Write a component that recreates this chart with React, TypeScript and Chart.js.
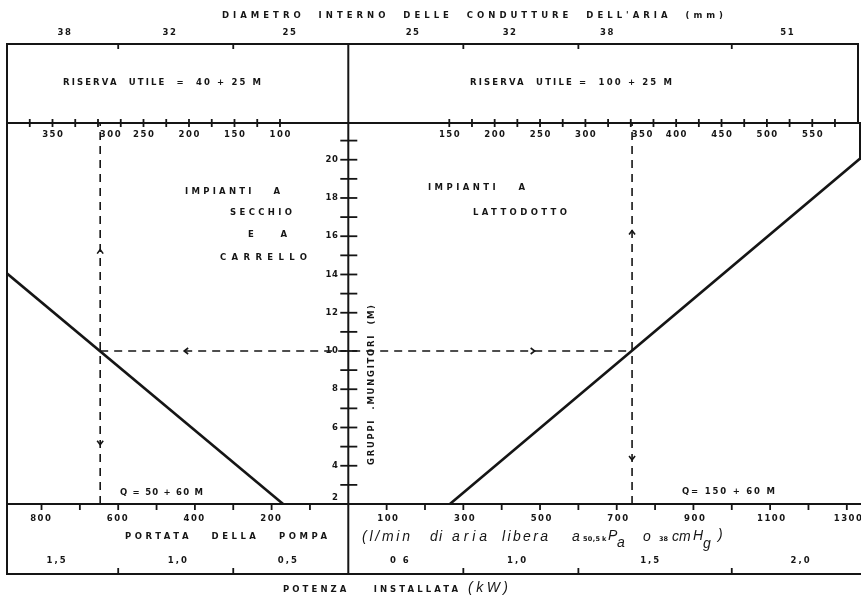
import React, { useEffect, useRef } from "react";
import { Chart, registerables } from "chart.js";

Chart.register(...registerables);

// ---------- data ----------
const M_MIN = 2;
const M_MAX = 21.92;
const Q_MIN = -890;
const Q_MAX = 1337;

const M_TICKS = [3, 4, 5, 6, 7, 8, 9, 10, 11, 12, 13, 14, 15, 16, 17, 18, 19, 20, 21];
const M_LABELS = [4, 6, 8, 10, 12, 14, 16, 18, 20];

const PORTATA_LEFT_TICKS = [100, 200, 300, 400, 500, 600, 700, 800];
const PORTATA_LEFT_LABELS = [200, 400, 600, 800];
const PORTATA_RIGHT_TICKS = [100, 200, 300, 400, 500, 600, 700, 800, 900, 1000, 1100, 1200, 1300];
const PORTATA_RIGHT_LABELS = [100, 300, 500, 700, 900, 1100, 1300];

const RISERVA_LEFT_TICKS = [100, 125, 150, 175, 200, 225, 250, 275, 300, 325, 350, 375];
const RISERVA_LEFT_LABELS = [100, 150, 200, 250, 300, 350];
const RISERVA_RIGHT_TICKS = [150, 175, 200, 225, 250, 275, 300, 325, 350, 375, 400, 425, 450, 475, 500, 525, 550, 575];
const RISERVA_RIGHT_LABELS = [150, 200, 250, 300, 350, 400, 450, 500, 550];

const BAND_BOUNDS = [-600, -300, 300, 600, 1000];
const DIAMETRO_LABELS = ["38", "32", "25", "25", "32", "38", "51"];
const DIAMETRO_AT = [-741, -467, -154, 167, 420, 674, 1144];
const KW_LABELS = ["1,5", "1,0", "0,5", "0 6", "1,0", "1,5", "2,0"];
const KW_AT = [-762, -446, -159, 133, 439, 786, 1178];

const LEFT_LINE_M = [2, 14.1];
const LEFT_LINE_Q = [170, 893];
const RIGHT_LINE_M = [2, 20.1];
const RIGHT_LINE_Q = [265, 1337];

const EXAMPLE_M = 10;
const EXAMPLE_Q_LEFT = 647;
const EXAMPLE_Q_RIGHT = 740;

const ARROW_X = [-647, -647, 740, 740, -428, 486];
const ARROW_Y = [15.3, 5.1, 16.3, 4.3, 10, 10];
const ARROW_DIR = ["up", "down", "up", "down", "left", "right"];

const INK = "#151515";
const BOLD = (s: number) => `bold ${s}px "DejaVu Sans", "Liberation Sans", sans-serif`;
const ITAL = (s: number) => `italic ${s}px "Liberation Sans", Arial, sans-serif`;

function spaced(ctx: CanvasRenderingContext2D, text: string, x1: number, x2: number, y: number, font: string) {
  ctx.font = font;
  (ctx as any).letterSpacing = "0px";
  const w = ctx.measureText(text).width;
  const n = text.length;
  const sp = n > 1 ? Math.max(0, (x2 - x1 - w) / (n - 1)) : 0;
  (ctx as any).letterSpacing = sp + "px";
  ctx.textAlign = "left";
  ctx.fillText(text, x1, y);
  (ctx as any).letterSpacing = "0px";
}

function centered(ctx: CanvasRenderingContext2D, text: string, x: number, y: number, font: string, sp: number) {
  ctx.font = font;
  (ctx as any).letterSpacing = "0px";
  const w = ctx.measureText(text).width + sp * (text.length - 1);
  spaced(ctx, text, x - w / 2, x + w / 2, y, font);
}

const nomogram = {
  id: "nomogram",
  beforeDatasetsDraw(chart: any) {
    const ctx: CanvasRenderingContext2D = chart.ctx;
    const xs = chart.scales.x, ys = chart.scales.y, rl = chart.scales.rl, rr = chart.scales.rr;
    const ca = chart.chartArea;
    const L = ca.left, R = ca.right, T = ca.top, B = ca.bottom;
    const X0 = xs.getPixelForValue(0);
    const TOP = 44, BOT = 574, RB = 858;
    ctx.save();
    ctx.strokeStyle = INK;
    ctx.lineWidth = 2;
    const seg = (x1: number, y1: number, x2: number, y2: number) => {
      ctx.beginPath(); ctx.moveTo(x1, y1); ctx.lineTo(x2, y2); ctx.stroke();
    };
    seg(L - 1, TOP, RB + 1, TOP);
    seg(L, TOP, L, BOT);
    seg(RB, TOP, RB, T);
    seg(L, T, R, T);
    seg(X0, TOP, X0, BOT);
    seg(L, B, R, B);
    seg(L - 1, BOT, R, BOT);
    seg(R - 1, T, R - 1, 160);

    ctx.lineWidth = 1.8;
    M_TICKS.forEach((m) => { const y = ys.getPixelForValue(m); seg(X0 - 8, y, X0 + 9, y); });
    RISERVA_LEFT_TICKS.forEach((v) => { const x = rl.getPixelForValue(v); seg(x, T - 4, x, T + 4); });
    RISERVA_RIGHT_TICKS.forEach((v) => { const x = rr.getPixelForValue(v); seg(x, T - 4, x, T + 4); });
    PORTATA_LEFT_TICKS.forEach((q) => { const x = xs.getPixelForValue(-q); seg(x, B, x, B + 6); });
    PORTATA_RIGHT_TICKS.forEach((q) => { const x = xs.getPixelForValue(q); seg(x, B, x, B + 6); });
    BAND_BOUNDS.forEach((q) => {
      const x = xs.getPixelForValue(q);
      seg(x, TOP, x, TOP + 5);
      seg(x, BOT - 6, x, BOT);
    });
    ctx.restore();
  },
  afterDatasetsDraw(chart: any) {
    const ctx: CanvasRenderingContext2D = chart.ctx;
    const xs = chart.scales.x, ys = chart.scales.y, rl = chart.scales.rl, rr = chart.scales.rr;
    const X0 = xs.getPixelForValue(0);
    const dashL = xs.getPixelForValue(-EXAMPLE_Q_LEFT);
    const dashR = xs.getPixelForValue(EXAMPLE_Q_RIGHT);
    ctx.save();
    ctx.fillStyle = INK;
    ctx.strokeStyle = INK;
    ctx.textBaseline = "middle";

    // arrows
    ctx.lineWidth = 1.6;
    ARROW_X.forEach((ax, i) => {
      const x = xs.getPixelForValue(ax), y = ys.getPixelForValue(ARROW_Y[i]);
      const d = ARROW_DIR[i];
      ctx.beginPath();
      if (d === "up") { ctx.moveTo(x - 3, y + 4); ctx.lineTo(x, y); ctx.lineTo(x + 3, y + 4); }
      if (d === "down") { ctx.moveTo(x - 3, y - 4); ctx.lineTo(x, y); ctx.lineTo(x + 3, y - 4); }
      if (d === "left") { ctx.moveTo(x + 4, y - 3); ctx.lineTo(x, y); ctx.lineTo(x + 4, y + 3); }
      if (d === "right") { ctx.moveTo(x - 4, y - 3); ctx.lineTo(x, y); ctx.lineTo(x - 4, y + 3); }
      ctx.stroke();
    });

    const F = BOLD(8.5);
    const N = BOLD(8.5);

    // title
    spaced(ctx, "DIAMETRO  INTERNO  DELLE  CONDUTTURE  DELL'ARIA  (mm)", 222, 723, 16, F);
    DIAMETRO_LABELS.forEach((t, i) => centered(ctx, t, xs.getPixelForValue(DIAMETRO_AT[i]), 33, N, 1.5));

    spaced(ctx, "RISERVA  UTILE  =  40 + 25 M", 63, 261, 83, F);
    spaced(ctx, "RISERVA  UTILE =  100 + 25 M", 470, 672, 83, F);

    RISERVA_LEFT_LABELS.forEach((v) => {
      let x = rl.getPixelForValue(v);
      if (Math.abs(x - dashL) < 8) x = dashL + 10;
      centered(ctx, String(v), x, 135, N, 1.5);
    });
    RISERVA_RIGHT_LABELS.forEach((v) => {
      let x = rr.getPixelForValue(v);
      if (Math.abs(x - dashR) < 8) x = dashR + 10;
      centered(ctx, String(v), x, 135, N, 1.5);
    });

    // M axis labels
    ctx.font = N;
    ctx.textAlign = "right";
    (ctx as any).letterSpacing = "0.5px";
    M_LABELS.forEach((m) => ctx.fillText(String(m), X0 - 10, ys.getPixelForValue(m)));
    ctx.fillText("2", X0 - 10, ys.getPixelForValue(M_MIN) - 6);
    (ctx as any).letterSpacing = "0px";

    // vertical axis title
    ctx.save();
    ctx.translate(372, 465);
    ctx.rotate(-Math.PI / 2);
    spaced(ctx, "GRUPPI  .MUNGITORI  (M)", 0, 160, 0, F);
    ctx.restore();

    // region labels
    spaced(ctx, "IMPIANTI   A", 185, 280, 192, F);
    spaced(ctx, "SECCHIO", 230, 292, 213, F);
    spaced(ctx, "E   A", 248, 287, 235, F);
    spaced(ctx, "CARRELLO", 220, 307, 258, F);
    spaced(ctx, "IMPIANTI   A", 428, 525, 188, F);
    spaced(ctx, "LATTODOTTO", 473, 567, 213, F);
    spaced(ctx, "Q = 50 + 60 M", 120, 203, 493, F);
    spaced(ctx, "Q= 150 + 60 M", 682, 775, 492, F);

    // bottom portata labels
    PORTATA_LEFT_LABELS.forEach((q) => centered(ctx, String(q), xs.getPixelForValue(-q) - 1, 519, N, 1.5));
    PORTATA_RIGHT_LABELS.forEach((q) => centered(ctx, String(q), xs.getPixelForValue(q) + 1, 519, N, 1.5));

    spaced(ctx, "PORTATA   DELLA   POMPA", 125, 327, 537, F);

    // italic units
    const it = ITAL(14);
    spaced(ctx, "(l/min", 362, 410, 537, it);
    spaced(ctx, "di", 430, 442, 537, it);
    spaced(ctx, "aria", 452, 487, 537, it);
    spaced(ctx, "libera", 502, 548, 537, it);
    spaced(ctx, "a", 572, 579, 537, it);
    spaced(ctx, "50,5", 583, 600, 539, BOLD(6.5));
    spaced(ctx, "k", 602, 606, 539, BOLD(6.5));
    spaced(ctx, "P", 608, 617, 536, it);
    spaced(ctx, "a", 617, 624, 543, it);
    spaced(ctx, "o", 643, 650, 537, it);
    spaced(ctx, "38", 659, 667, 539, BOLD(6.5));
    spaced(ctx, "cm", 672, 690, 537, it);
    spaced(ctx, "H", 693, 703, 536, it);
    spaced(ctx, "g", 703, 711, 544, it);
    spaced(ctx, ")", 718, 722, 535, it);

    KW_LABELS.forEach((t, i) => centered(ctx, t, xs.getPixelForValue(KW_AT[i]), 561, N, 2));

    spaced(ctx, "POTENZA    INSTALLATA", 283, 458, 590, F);
    spaced(ctx, "(kW)", 468, 508, 588, ITAL(14));

    ctx.restore();
  },
};

export default function App() {
  const ref = useRef<HTMLCanvasElement | null>(null);
  useEffect(() => {
    if (!ref.current) return;
    const solid = { borderColor: INK, borderWidth: 2.6, pointRadius: 0, showLine: true, fill: false };
    const dashed = { borderColor: INK, borderWidth: 1.6, pointRadius: 0, showLine: true, fill: false, borderDash: [8, 6] };
    const chart = new Chart(ref.current, {
      type: "scatter",
      data: {
        datasets: [
          { ...solid, data: LEFT_LINE_M.map((m, i) => ({ x: -LEFT_LINE_Q[i], y: m })) },
          { ...solid, data: RIGHT_LINE_M.map((m, i) => ({ x: RIGHT_LINE_Q[i], y: m })) },
          { ...dashed, data: [{ x: -EXAMPLE_Q_LEFT, y: M_MIN }, { x: -EXAMPLE_Q_LEFT, y: M_MAX }] },
          { ...dashed, data: [{ x: -EXAMPLE_Q_LEFT, y: EXAMPLE_M }, { x: EXAMPLE_Q_RIGHT, y: EXAMPLE_M }] },
          { ...dashed, data: [{ x: EXAMPLE_Q_RIGHT, y: M_MIN }, { x: EXAMPLE_Q_RIGHT, y: M_MAX }] },
        ] as any,
      },
      options: {
        responsive: false,
        animation: false,
        layout: { padding: { left: 7, right: 0, top: 123, bottom: 103 } },
        plugins: { legend: { display: false }, tooltip: { enabled: false } },
        scales: {
          x: { type: "linear", min: Q_MIN, max: Q_MAX, display: false },
          y: { type: "linear", min: M_MIN, max: M_MAX, display: false },
          rl: { type: "linear", axis: "x", position: "top", min: -538.5, max: 400, reverse: true, display: false },
          rr: { type: "linear", axis: "x", position: "top", min: -337.4, max: 603.7, display: false },
        } as any,
      },
      plugins: [nomogram as any],
    });
    return () => chart.destroy();
  }, []);
  return (
    <div style={{ position: "fixed", left: 0, top: 0, width: 861, height: 607, background: "#fff" }}>
      <canvas ref={ref} width={861} height={607} style={{ display: "block" }} />
    </div>
  );
}
